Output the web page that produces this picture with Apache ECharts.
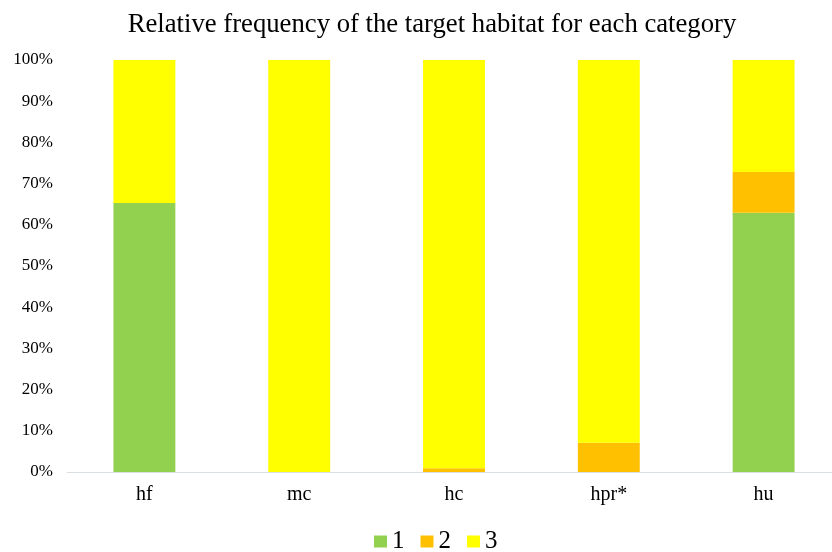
<!DOCTYPE html>
<html><head><meta charset="utf-8">
<script src="https://cdn.jsdelivr.net/npm/echarts@6/dist/echarts.min.js"></script>
<style>html,body{margin:0;padding:0;background:#fff}#c{width:832px;height:552px}</style>
</head><body><div id="c"></div>
<script>
const categories = ['hf', 'mc', 'hc', 'hpr*', 'hu'];
const s1 = [65.3, 0, 0, 0, 62.9];
const s2 = [0, 0, 0.9, 7.1, 9.9];
const s3 = [34.7, 100, 99.1, 92.9, 27.2];
const seriesNames = ['1', '2', '3'];
const colors = ['#92d050', '#ffc000', '#ffff00'];
const font = 'Liberation Serif, Times New Roman, serif';
const chart = echarts.init(document.getElementById('c'));
chart.setOption({
  animation: false,
  title: {
    text: 'Relative frequency of the target habitat for each category',
    left: 427, top: 6, textAlign: 'center',
    textStyle: { fontFamily: font, fontSize: 26.7, fontWeight: 'normal', color: '#000' }
  },
  legend: {
    top: 524, left: 369, itemWidth: 13, itemHeight: 12, itemGap: 16,
    icon: 'rect',
    textStyle: { fontFamily: font, fontSize: 25, color: '#000' },
    data: seriesNames
  },
  grid: { left: 67, right: -9, top: 60, bottom: 80, outerBoundsMode: 'none', containLabel: false },
  xAxis: {
    type: 'category', data: categories,
    axisLine: { lineStyle: { color: '#d9dee3', width: 1 } },
    axisTick: { show: false },
    axisLabel: { fontFamily: font, fontSize: 20, color: '#000', margin: 13 }
  },
  yAxis: {
    type: 'value', min: 0, max: 100, interval: 10,
    axisLabel: { formatter: '{value}%', fontFamily: font, fontSize: 17, color: '#000', margin: 14 },
    splitLine: { show: false }, axisLine: { show: false }, axisTick: { show: false }
  },
  series: [s1, s2, s3].map((d, i) => ({
    name: seriesNames[i], type: 'bar', stack: 'total', data: d,
    barWidth: '40%', itemStyle: { color: colors[i] }
  }))
});
</script></body></html>
